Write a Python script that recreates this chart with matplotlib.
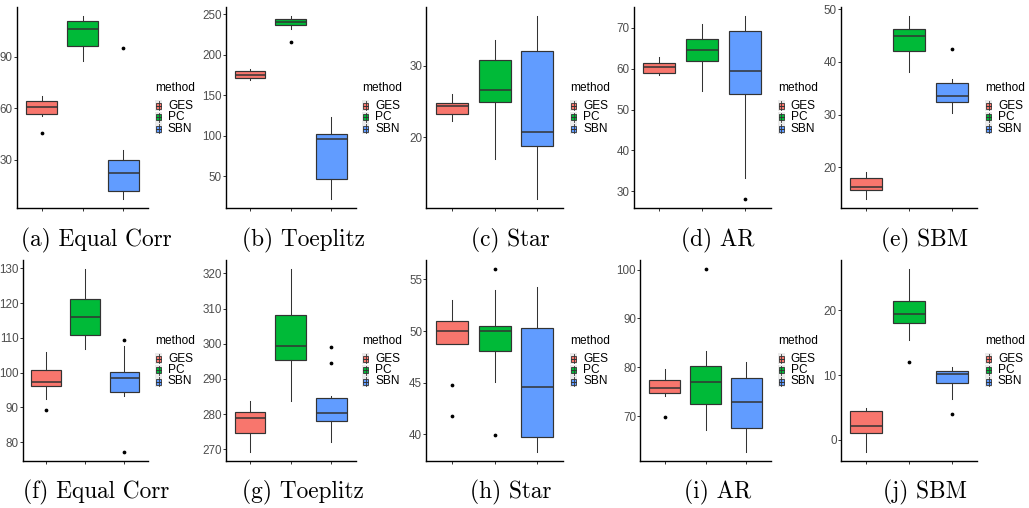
import matplotlib
matplotlib.use("Agg")
import matplotlib.pyplot as plt
from matplotlib.patches import Rectangle
from matplotlib.lines import Line2D
from matplotlib.transforms import Affine2D

plt.rcParams["font.family"] = ["Liberation Sans", "DejaVu Sans"]

W, H = 1029, 508

methods = ["GES", "PC", "SBN"]
colors = ["#F8766D", "#00BA38", "#619CFF"]

captions = ["(a) Equal Corr", "(b) Toeplitz", "(c) Star", "(d) AR", "(e) SBM",
            "(f) Equal Corr", "(g) Toeplitz", "(h) Star", "(i) AR", "(j) SBM"]

# Five-number summaries per method: (lower whisker, Q1, median, Q3, upper whisker)
a_stats = {"GES": (55.5, 56.9, 60.6, 64.1, 67.5), "PC": (87.9, 96.6, 106.1, 111.1, 113.8),
           "SBN": (7.3, 12.1, 22.6, 30.0, 35.6)}
a_fliers = {"GES": [45.8], "PC": [], "SBN": [95.4]}
a_ticks = [30, 60, 90]

b_stats = {"GES": (168.8, 171.6, 174.9, 180.2, 182.0), "PC": (231.2, 236.5, 240.2, 243.8, 247.5),
           "SBN": (22.0, 46.1, 95.8, 102.3, 123.6)}
b_fliers = {"GES": [], "PC": [215.2], "SBN": []}
b_ticks = [50, 100, 150, 200, 250]

c_stats = {"GES": (22.3, 23.3, 24.4, 24.8, 26.0), "PC": (17.0, 24.9, 26.6, 30.8, 33.6),
           "SBN": (11.4, 18.8, 20.8, 32.1, 36.9)}
c_fliers = {"GES": [], "PC": [], "SBN": []}
c_ticks = [20, 30]

d_stats = {"GES": (58.5, 58.9, 60.5, 61.3, 63.0), "PC": (54.5, 62.0, 64.6, 67.2, 70.9),
           "SBN": (33.3, 53.8, 59.5, 69.2, 72.9)}
d_fliers = {"GES": [], "PC": [], "SBN": [28.1]}
d_ticks = [30, 40, 50, 60, 70]

e_stats = {"GES": (14.0, 15.6, 16.3, 17.9, 19.1), "PC": (38.0, 42.0, 45.0, 46.2, 48.7),
           "SBN": (30.4, 32.3, 33.5, 36.0, 36.7)}
e_fliers = {"GES": [], "PC": [], "SBN": [42.4]}
e_ticks = [20, 30, 40, 50]

f_stats = {"GES": (92.4, 96.3, 97.4, 100.7, 105.9), "PC": (106.7, 110.8, 115.9, 121.1, 129.8),
           "SBN": (93.4, 94.5, 98.5, 100.3, 107.7)}
f_fliers = {"GES": [89.2], "PC": [], "SBN": [109.5, 77.2]}
f_ticks = [80, 90, 100, 110, 120, 130]

g_stats = {"GES": (269.3, 274.7, 278.8, 280.6, 283.8), "PC": (283.8, 295.3, 299.3, 308.1, 321.2),
           "SBN": (272.1, 278.2, 280.3, 284.6, 285.1)}
g_fliers = {"GES": [], "PC": [], "SBN": [294.4, 299.1]}
g_ticks = [270, 280, 290, 300, 310, 320]

h_stats = {"GES": (48.7, 48.7, 50.0, 51.0, 53.0), "PC": (45.1, 48.1, 50.0, 50.5, 54.0),
           "SBN": (38.3, 39.7, 44.6, 50.3, 54.3)}
h_fliers = {"GES": [44.8, 41.8], "PC": [56.0, 39.9], "SBN": []}
h_ticks = [40, 45, 50, 55]

i_stats = {"GES": (74.2, 74.8, 75.7, 77.4, 79.7), "PC": (67.1, 72.4, 76.9, 80.2, 83.4),
           "SBN": (62.7, 67.6, 73.0, 77.9, 81.0)}
i_fliers = {"GES": [69.9], "PC": [100.1], "SBN": []}
i_ticks = [70, 80, 90, 100]

j_stats = {"GES": (-1.9, 1.0, 2.1, 4.5, 4.9), "PC": (15.4, 18.0, 19.4, 21.4, 26.4),
           "SBN": (6.3, 8.8, 10.2, 10.6, 11.3)}
j_fliers = {"GES": [], "PC": [12.0], "SBN": [4.0]}
j_ticks = [0, 10, 20]

panels = [(a_stats, a_fliers, a_ticks), (b_stats, b_fliers, b_ticks),
          (c_stats, c_fliers, c_ticks), (d_stats, d_fliers, d_ticks),
          (e_stats, e_fliers, e_ticks), (f_stats, f_fliers, f_ticks),
          (g_stats, g_fliers, g_ticks), (h_stats, h_fliers, h_ticks),
          (i_stats, i_fliers, i_ticks), (j_stats, j_fliers, j_ticks)]

# Panel layout in pixels (x0, x1) for each column; rows share vertical extent
top_x = [(17.0, 148.0), (225.7, 355.7), (426.3, 563.0), (633.7, 770.7), (840.7, 977.3)]
bot_x = [(22.5, 147.7), (225.7, 355.7), (426.3, 563.0), (640.3, 770.7), (840.7, 977.3)]
row_y = [(7.0, 208.0), (260.0, 461.0)]
legend_x = [155, 362, 570, 777.7, 985]
legend_y = [88.3, 341.0]
caption_x = [96.5, 303, 510.5, 718, 925]
caption_y = [240, 492]

EDGE = "#333333"
TICK_FS = 8.4
LEG_FS = 8.6

fig = plt.figure(figsize=(W / 100, H / 100), dpi=100)
pix = Affine2D().scale(1 / W, -1 / H).translate(0, 1) + fig.transFigure


def draw_panel(ax, stats, fliers, ticks):
    bxp_stats = []
    for m in methods:
        lo, q1, med, q3, hi = stats[m]
        bxp_stats.append(dict(whislo=lo, q1=q1, med=med, q3=q3, whishi=hi, fliers=fliers[m]))
    res = ax.bxp(bxp_stats, positions=[1, 2, 3], widths=0.75, patch_artist=True,
                 showcaps=False, showfliers=True,
                 boxprops=dict(edgecolor=EDGE, linewidth=0.85),
                 whiskerprops=dict(color=EDGE, linewidth=0.75),
                 medianprops=dict(color=EDGE, linewidth=1.1),
                 flierprops=dict(marker="o", markersize=1.7, markerfacecolor="black",
                                 markeredgecolor="black", linestyle="none"))
    for box, col in zip(res["boxes"], colors):
        box.set_facecolor(col)
    values = []
    for m in methods:
        values.extend(stats[m])
        values.extend(fliers[m])
    lo, hi = min(values), max(values)
    pad = 0.05 * (hi - lo)
    ax.set_ylim(lo - pad, hi + pad)
    ax.set_xlim(0.4, 3.6)
    ax.set_yticks(ticks)
    ax.set_yticklabels([str(t) for t in ticks])
    ax.set_xticks([1, 2, 3])
    ax.set_xticklabels([])
    for s in ("top", "right"):
        ax.spines[s].set_visible(False)
    for s in ("left", "bottom"):
        ax.spines[s].set_color("black")
        ax.spines[s].set_linewidth(1.0)
    ax.tick_params(axis="both", length=2.0, width=0.7, color=EDGE,
                   labelsize=TICK_FS, labelcolor="#4D4D4D", pad=1.0)
    ax.set_facecolor("white")


def draw_legend(x, y):
    fig.text(x, y, "method", transform=pix, ha="left", va="center",
             fontsize=LEG_FS, color="black")
    for k, (name, col) in enumerate(zip(methods, colors)):
        yc = y + 17.5 + 11.5 * k
        fig.add_artist(Rectangle((x, yc - 5.5), 7, 11, transform=pix,
                                 facecolor="#EBEBEB", edgecolor="none"))
        fig.add_artist(Line2D([x + 3.5, x + 3.5], [yc - 4.5, yc + 4.5], transform=pix,
                              color=EDGE, linewidth=0.6))
        fig.add_artist(Rectangle((x + 1.2, yc - 3), 4.6, 6, transform=pix,
                                 facecolor=col, edgecolor=EDGE, linewidth=0.6))
        fig.add_artist(Line2D([x + 1.2, x + 5.8], [yc, yc], transform=pix,
                              color=EDGE, linewidth=0.7))
        fig.text(x + 13, yc, name, transform=pix, ha="left", va="center",
                 fontsize=LEG_FS, color="black")


for idx, (stats, fliers, ticks) in enumerate(panels):
    row, col = divmod(idx, 5)
    x0, x1 = (top_x if row == 0 else bot_x)[col]
    y0, y1 = row_y[row]
    ax = fig.add_axes([x0 / W, 1 - y1 / H, (x1 - x0) / W, (y1 - y0) / H])
    draw_panel(ax, stats, fliers, ticks)
    draw_legend(legend_x[col], legend_y[row])
    fig.text(caption_x[col], caption_y[row], captions[idx], transform=pix,
             ha="center", va="center", fontsize=16.8, family="cmr10", color="black")

fig.savefig("out.png", dpi=100, facecolor="white")
